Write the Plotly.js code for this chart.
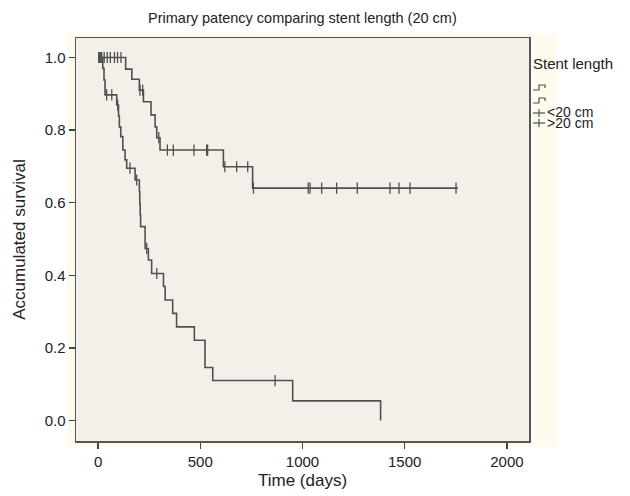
<!DOCTYPE html>
<html>
<head>
<meta charset="utf-8">
<script src="https://cdn.plot.ly/plotly-3.0.1.min.js"></script>
<style>html,body{margin:0;padding:0;background:#fff;}#chart{width:630px;height:496px;}</style>
</head>
<body>
<div id="chart"></div>
<script>
// ---- Data ----
const chartTitle = "Primary patency comparing stent length (20 cm)";
const xTitle = "Time (days)";
const yTitle = "Accumulated survival";
const legendTitle = "Stent length";
const groupNames = ["<20 cm", ">20 cm"];

// Upper curve: step times (days) and survival after each step
const upperDays = [0, 135, 165, 202, 222, 259, 279, 287, 303, 613, 756, 1760];
const upperSurv = [1.0, 0.968, 0.940, 0.910, 0.878, 0.842, 0.809, 0.779, 0.745, 0.699, 0.640, 0.640];
const upperCensor = [5, 15, 30, 45, 60, 80, 95, 112, 205, 218, 297, 339, 368, 469, 531, 536, 620, 678, 732, 760, 1028, 1037, 1094, 1167, 1268, 1428, 1472, 1526, 1751];

// Lower curve
const lowerDays = [0, 23, 29, 34, 91, 100, 104, 111, 121, 132, 140, 181, 202, 204, 206, 208, 230, 246, 262, 320, 328, 365, 384, 471, 523, 561, 952, 1382];
const lowerSurv = [1.0, 0.970, 0.938, 0.897, 0.869, 0.839, 0.809, 0.782, 0.745, 0.718, 0.695, 0.6625, 0.630, 0.598, 0.566, 0.534, 0.474, 0.442, 0.405, 0.369, 0.332, 0.295, 0.258, 0.221, 0.146, 0.110, 0.054, 0.0];
const lowerCensor = [3, 8, 13, 18, 42, 67, 96, 156, 189, 238, 287, 866];

const xTicks = [0, 500, 1000, 1500, 2000];
const yTicks = [0.0, 0.2, 0.4, 0.6, 0.8, 1.0];

// ---- helpers ----
function survAt(days, surv, t) {
  let s = surv[0];
  for (let i = 0; i < days.length; i++) { if (days[i] <= t) s = surv[i]; }
  return s;
}
const lineColor = "#505050";
const FONT = "Liberation Sans, Arial, sans-serif";

function stepTrace(d, s, name) {
  return {x: d, y: s, mode: "lines", line: {shape: "hv", color: lineColor, width: 1.6}, name: name, showlegend: false, hoverinfo: "skip"};
}
function censorTrace(days, d, s, name) {
  return {x: days, y: days.map(t => survAt(d, s, t)), mode: "markers", name: name, showlegend: false, hoverinfo: "skip",
    marker: {symbol: "line-ns-open", size: 8, line: {width: 1.3, color: lineColor}, color: lineColor}};
}

const traces = [
  stepTrace(upperDays, upperSurv, groupNames[0]),
  stepTrace(lowerDays, lowerSurv, groupNames[1]),
  censorTrace(upperCensor, upperDays, upperSurv, groupNames[0] + " censored"),
  censorTrace(lowerCensor, lowerDays, lowerSurv, groupNames[1] + " censored")
];

// pixel -> paper conversion (plot area: x 76..529, y 38..441)
const L = 76, R = 529, T = 38, B = 441;
const px = x => (x - L) / (R - L);
const py = y => (B - y) / (B - T);

const shapes = [
  {type: "rect", xref: "paper", yref: "paper", x0: px(67), x1: px(557), y0: py(447), y1: py(34), fillcolor: "#fdfbee", line: {width: 0}, layer: "below"},
  {type: "rect", xref: "paper", yref: "paper", x0: 0, x1: 1, y0: 0, y1: 1, fillcolor: "#f3f0ea", line: {width: 0}, layer: "below"}
];
// legend icons
function stepIcon(yLow) {
  const yHigh = yLow - 5;
  return {type: "path", xref: "paper", yref: "paper",
    path: `M ${px(533)} ${py(yLow)} L ${px(539)} ${py(yLow)} L ${px(539)} ${py(yHigh)} L ${px(545)} ${py(yHigh)} L ${px(545)} ${py(yHigh + 3)}`,
    line: {color: lineColor, width: 1.2}};
}
function plusIcon(yc) {
  return [
    {type: "line", xref: "paper", yref: "paper", x0: px(533), x1: px(545), y0: py(yc), y1: py(yc), line: {color: lineColor, width: 1.2}},
    {type: "line", xref: "paper", yref: "paper", x0: px(539), x1: px(539), y0: py(yc - 4), y1: py(yc + 4), line: {color: lineColor, width: 1.2}}
  ];
}
shapes.push(stepIcon(90), stepIcon(103));
shapes.push(...plusIcon(113), ...plusIcon(123));

const annotations = [
  {xref: "paper", yref: "paper", x: px(531), y: py(63), text: legendTitle, showarrow: false, xanchor: "left", yanchor: "middle", font: {family: FONT, size: 15, color: "#222"}},
  {xref: "paper", yref: "paper", x: px(545), y: py(112), text: groupNames[0], showarrow: false, xanchor: "left", yanchor: "middle", font: {family: FONT, size: 14, color: "#222"}},
  {xref: "paper", yref: "paper", x: px(545), y: py(123), text: groupNames[1], showarrow: false, xanchor: "left", yanchor: "middle", font: {family: FONT, size: 14, color: "#222"}}
];

const layout = {
  width: 630, height: 496,
  margin: {l: L, r: 630 - R, t: T, b: 496 - B, pad: 0},
  paper_bgcolor: "#ffffff",
  plot_bgcolor: "#f3f0ea",
  title: {text: chartTitle, font: {family: FONT, size: 14.5, color: "#222"}, x: 0.48, xanchor: "center", y: 1 - 18 / 496, yanchor: "middle"},
  showlegend: false,
  xaxis: {
    range: [-108, 2108], tickvals: xTicks, ticktext: xTicks.map(String),
    ticks: "outside", ticklen: 6, tickwidth: 1.5, tickcolor: "#444",
    showline: true, linecolor: "#555", linewidth: 1.5, mirror: true, showgrid: false, zeroline: false,
    tickfont: {family: FONT, size: 15, color: "#222"},
    title: {text: xTitle, font: {family: FONT, size: 17, color: "#222"}, standoff: 5}
  },
  yaxis: {
    range: [-0.0565, 1.0537], tickvals: yTicks, ticktext: yTicks.map(v => v.toFixed(1)),
    ticks: "outside", ticklen: 6, tickwidth: 1.5, tickcolor: "#444",
    showline: true, linecolor: "#555", linewidth: 1.5, mirror: true, showgrid: false, zeroline: false,
    tickfont: {family: FONT, size: 15, color: "#222"},
    title: {text: yTitle, font: {family: FONT, size: 17, color: "#222"}, standoff: 14}
  },
  shapes: shapes,
  annotations: annotations
};

Plotly.newPlot("chart", traces, layout, {displayModeBar: false, staticPlot: true});
</script>
</body>
</html>
